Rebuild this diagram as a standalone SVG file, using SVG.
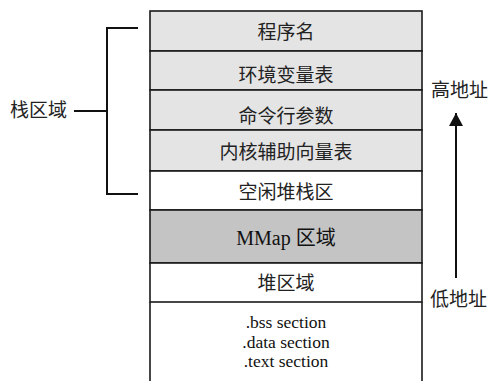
<svg xmlns="http://www.w3.org/2000/svg" width="491" height="381" viewBox="0 0 491 381">
<defs>
<style>
.cell{stroke:#1a1a1a;stroke-width:1.6}
.g1{fill:#e4e4e4}
.g2{fill:#c4c4c4}
.w{fill:#ffffff}
.cjk{font-family:"Noto Sans CJK SC","Liberation Serif",serif;font-size:19px;fill:#222;text-anchor:middle}
.lat{font-family:"Liberation Serif","Noto Sans CJK SC",serif;font-size:20px;fill:#111;text-anchor:middle}
.sec{font-family:"Liberation Serif",serif;font-size:17.5px;fill:#111;text-anchor:middle}
.lbl{font-family:"Noto Sans CJK SC","Liberation Serif",serif;font-size:19px;fill:#222}
.ln{stroke:#111;stroke-width:2;fill:none}
</style>
<marker id="ah" viewBox="0 0 13 14" refX="13" refY="7" markerWidth="13" markerHeight="14" markerUnits="userSpaceOnUse" orient="auto">
<path d="M0,0 L13,7 L0,14 Z" fill="#111"/>
</marker>
</defs>
<rect width="491" height="381" fill="#ffffff"/>
<g id="row-program-name">
<rect class="cell g1" x="150" y="11" width="272" height="40"/>
<text class="cjk" x="286" y="39">程序名</text>
</g>
<g id="row-env">
<rect class="cell g1" x="150" y="51" width="272" height="39"/>
<text class="cjk" x="286" y="82">环境变量表</text>
</g>
<g id="row-args">
<rect class="cell g1" x="150" y="90" width="272" height="40"/>
<text class="cjk" x="286" y="123">命令行参数</text>
</g>
<g id="row-auxv">
<rect class="cell g1" x="150" y="130" width="272" height="41"/>
<text class="cjk" x="286" y="159">内核辅助向量表</text>
</g>
<g id="row-free-stack">
<rect class="cell w" x="150" y="171" width="272" height="39"/>
<text class="cjk" x="286" y="199">空闲堆栈区</text>
</g>
<g id="row-mmap">
<rect class="cell g2" x="150" y="210" width="272" height="53"/>
<text class="lat" x="286" y="245">MMap 区域</text>
</g>
<g id="row-heap">
<rect class="cell w" x="150" y="263" width="272" height="39"/>
<text class="cjk" x="286" y="290">堆区域</text>
</g>
<g id="row-sections">
<path class="cell" d="M150,302 V381 M422,302 V381" fill="none"/>
<text class="sec" x="286" y="328">.bss section</text>
<text class="sec" x="286" y="347.5">.data section</text>
<text class="sec" x="286" y="367">.text section</text>
</g>
<g id="label-stack">
<text class="lbl" x="10" y="117">栈区域</text>
</g>
<g id="label-high">
<text class="lbl" x="431" y="97">高地址</text>
</g>
<g id="label-low">
<text class="lbl" x="430" y="306">低地址</text>
</g>
<g id="connectors">
<path class="ln" d="M138,28 H107 V194 H138 M74,111 H107"/>
<path class="ln" d="M456,278 V113" marker-end="url(#ah)"/>
</g>
</svg>
